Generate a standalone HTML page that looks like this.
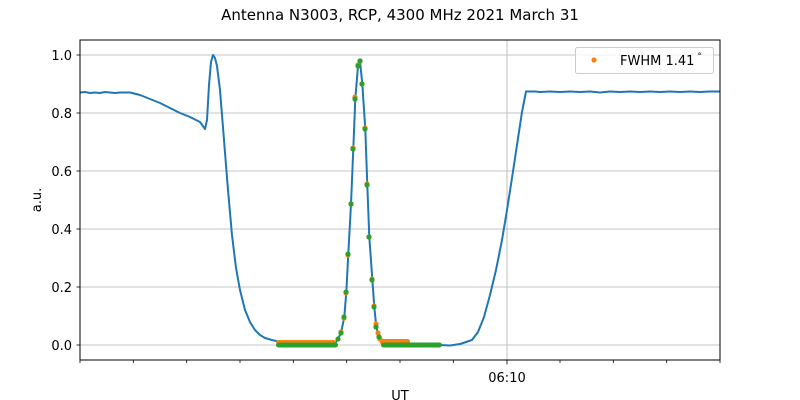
<!DOCTYPE html>
<html><head><style>body{margin:0;background:#fff}svg{display:block}</style></head><body>
<svg width="800" height="400" viewBox="0 0 800 400" font-family="DejaVu Sans, Liberation Sans, sans-serif">
<rect width="800" height="400" fill="#fff"/>
<text x="400" y="20" font-size="15" text-anchor="middle">Antenna N3003, RCP, 4300 MHz 2021 March 31</text>
<g stroke="#b0b0b0" stroke-width="0.8">
<line x1="80" x2="720" y1="345" y2="345"/><line x1="80" x2="720" y1="287" y2="287"/>
<line x1="80" x2="720" y1="229" y2="229"/><line x1="80" x2="720" y1="171" y2="171"/>
<line x1="80" x2="720" y1="113" y2="113"/><line x1="80" x2="720" y1="55" y2="55"/>
<line x1="507" x2="507" y1="40" y2="360"/>
</g>
<polyline fill="none" stroke="#1f77b4" stroke-width="2" stroke-linejoin="round" points="80,92.5 85,92 90,93 95,92.5 100,93 105,92 110,92.5 115,93 120,92.5 130,92.5 140,95 150,99 160,103 170,108 180,113 190,117 200,122 205,129 207,120 209,85 211,62 213,55 215,58 217,66 220,90 224,140 228,190 232,235 236,268 240,290 245,310 250,322 255,330 260,335 265,338 272,340 280,342 290,342.5 330,343 336,342 341,333 344.3,317 346.3,292 348.3,254 351,204 353.3,149 355.3,99 358,66 360,61 362.3,84 365.3,129 367.3,185 369.3,237 372.3,279 374.3,307 376.3,327 379,337 383,343 390,344.5 440,345 450,345.5 460,344 472,340 478,332 484,317 490,295 496,270 502,240 507,210 512,178 517,145 522,112 526,91.5 535,91.5 540,92 550,91.5 560,92 570,91.5 580,92 590,91.5 600,92.5 610,91.5 620,92 630,91.5 640,92 650,91.5 660,92 670,91.5 680,92 690,91.5 700,92 710,91.5 720,91.5"/>
<g fill="#ff7f0e">
<rect x="276" y="340" width="60" height="5" rx="2.5"/>
<rect x="380" y="339" width="30" height="6" rx="2.5"/>
<circle cx="341" cy="332" r="2.6"/><circle cx="344" cy="318" r="2.6"/><circle cx="346" cy="293" r="2.6"/><circle cx="348" cy="255" r="2.6"/><circle cx="351" cy="204" r="2.6"/><circle cx="353" cy="148" r="2.6"/><circle cx="355" cy="97" r="2.6"/><circle cx="358" cy="65" r="2.6"/><circle cx="360" cy="61" r="2.6"/><circle cx="362" cy="84" r="2.6"/><circle cx="365" cy="128" r="2.6"/><circle cx="367" cy="184" r="2.6"/><circle cx="369" cy="237" r="2.6"/><circle cx="372" cy="279" r="2.6"/><circle cx="374" cy="306" r="2.6"/><circle cx="376" cy="324" r="2.6"/><circle cx="378" cy="333" r="2.6"/><circle cx="380" cy="339" r="2.6"/>
</g>
<g fill="#2ca02c">
<rect x="276" y="342.5" width="62" height="5" rx="2.5"/>
<rect x="381" y="342.5" width="61" height="5" rx="2.5"/>
<circle cx="338" cy="339" r="2.6"/><circle cx="341" cy="333" r="2.6"/><circle cx="344" cy="317" r="2.6"/><circle cx="346" cy="292" r="2.6"/><circle cx="348" cy="254" r="2.6"/><circle cx="351" cy="204" r="2.6"/><circle cx="353" cy="149" r="2.6"/><circle cx="355" cy="99" r="2.6"/><circle cx="358" cy="66" r="2.6"/><circle cx="360" cy="61" r="2.6"/><circle cx="362" cy="84" r="2.6"/><circle cx="365" cy="129" r="2.6"/><circle cx="367" cy="185" r="2.6"/><circle cx="369" cy="237" r="2.6"/><circle cx="372" cy="280" r="2.6"/><circle cx="374" cy="307" r="2.6"/><circle cx="376" cy="327" r="2.6"/><circle cx="379" cy="337" r="2.6"/>
</g>
<rect x="80" y="40" width="640" height="320" fill="none" stroke="#000" stroke-width="1"/>
<g stroke="#000" stroke-width="0.8">
<line x1="76.5" x2="80" y1="345" y2="345"/><line x1="76.5" x2="80" y1="287" y2="287"/><line x1="76.5" x2="80" y1="229" y2="229"/><line x1="76.5" x2="80" y1="171" y2="171"/><line x1="76.5" x2="80" y1="113" y2="113"/><line x1="76.5" x2="80" y1="55" y2="55"/>
<line x1="80" x2="80" y1="360" y2="363"/><line x1="133.3" x2="133.3" y1="360" y2="363"/><line x1="186.7" x2="186.7" y1="360" y2="363"/><line x1="240" x2="240" y1="360" y2="363"/><line x1="293.3" x2="293.3" y1="360" y2="363"/><line x1="346.7" x2="346.7" y1="360" y2="363"/><line x1="400" x2="400" y1="360" y2="363"/><line x1="453.3" x2="453.3" y1="360" y2="363"/><line x1="560" x2="560" y1="360" y2="363"/><line x1="613.3" x2="613.3" y1="360" y2="363"/><line x1="666.7" x2="666.7" y1="360" y2="363"/><line x1="720" x2="720" y1="360" y2="363"/>
<line x1="507" x2="507" y1="360" y2="364.5"/>
</g>
<g font-size="13" text-anchor="end">
<text x="72" y="350">0.0</text><text x="72" y="292">0.2</text><text x="72" y="234">0.4</text><text x="72" y="176">0.6</text><text x="72" y="118">0.8</text><text x="72" y="60">1.0</text>
</g>
<text x="507" y="382" font-size="13" text-anchor="middle">06:10</text>
<text x="400" y="400" font-size="13" text-anchor="middle">UT</text>
<text x="41" y="200" font-size="13" text-anchor="middle" transform="rotate(-90 41 200)">a.u.</text>
<rect x="575.5" y="47.5" width="138" height="26" rx="2" fill="#fff" fill-opacity="0.8" stroke="#ccc"/>
<circle cx="594" cy="60" r="2.6" fill="#ff7f0e"/>
<text x="620" y="65" font-size="13">FWHM 1.41<tspan font-size="9" dy="-6"> °</tspan></text>
</svg>
</body></html>
